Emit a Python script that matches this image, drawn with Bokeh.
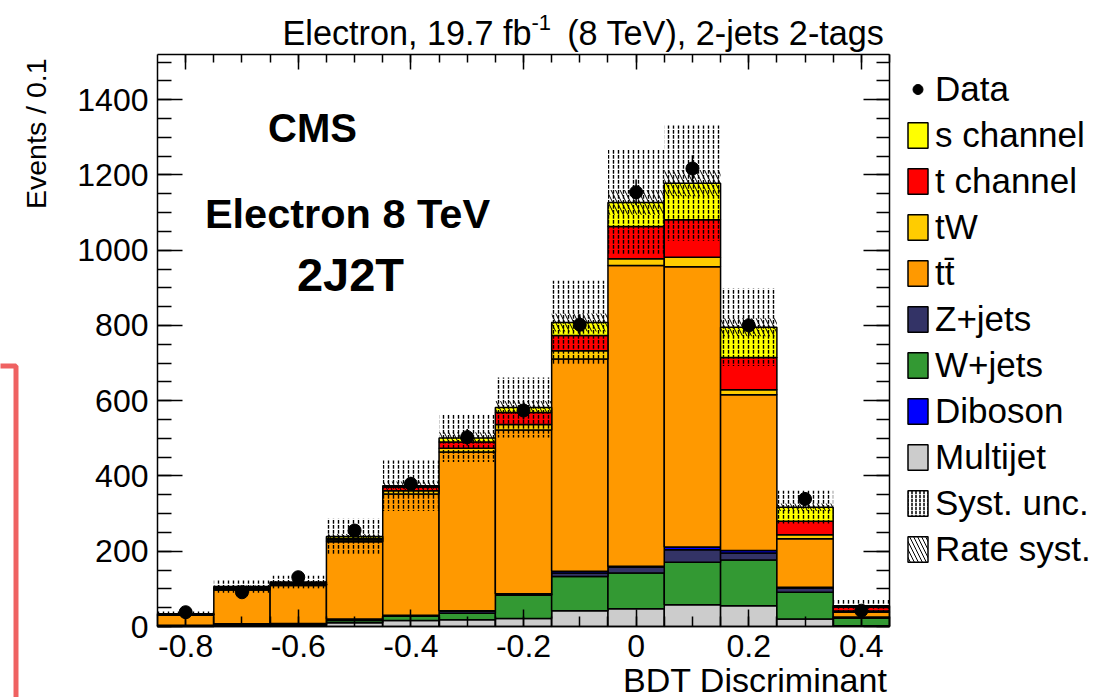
import numpy as np
from bokeh.plotting import figure
from bokeh.models import (ColumnDataSource, Label, Legend, LegendItem, LinearAxis,
                          SingleIntervalTicker, CustomJSTickFormatter, BoxAnnotation, Range1d)
from bokeh.embed import file_html
from bokeh.resources import INLINE

# ---- histogram content (events per 0.1 bin of the BDT discriminant) ----
bin_centers = [-0.8, -0.7, -0.6, -0.5, -0.4, -0.3, -0.2, -0.1, 0.0, 0.1, 0.2, 0.3, 0.4]
bin_width = 0.1

multijet  = [0, 1, 4, 10, 16, 18, 21, 42, 47, 58, 55, 20, 2]
wjets     = [2, 4, 3, 6, 11, 17, 62, 91, 95, 113, 122, 71, 20]
zjets     = [1, 2, 1, 4, 3, 6, 3, 9, 16, 33, 18, 11, 2]
diboson   = [0, 0, 0, 0, 0, 1, 1, 5, 2, 7, 7, 2, 1]
ttbar     = [27, 90, 101, 205, 322, 422, 435, 564, 799, 745, 414, 129, 13]
tw        = [2, 3, 3, 5, 9, 10, 15, 22, 18, 25, 13, 11, 3]
t_channel = [1, 2, 2, 4, 10, 16, 32, 40, 86, 100, 86, 36, 10]
s_channel = [1, 4, 4, 5, 3, 11, 13, 35, 64, 97, 80, 37, 4]

data      = [38, 91, 131, 255, 379, 503, 574, 802, 1154, 1217, 800, 339, 42]
data_err  = [6, 10, 11, 16, 19, 22, 24, 28, 34, 35, 28, 18, 6]

syst_unc  = [6, 16, 17, 47, 67, 64, 80, 111, 140, 153, 103, 44, 18]
rate_unc  = [1, 3, 3, 7, 11, 15, 17, 24, 33, 35, 24, 10, 2]

x_lo, x_hi = -0.85, 0.45      # histogram axis span
y_lo, y_hi = 0, 1520

FONT = "Liberation Sans"

# stack from the bottom up
stack = [
    ("Multijet",  multijet,  "#cccccc"),
    ("W+jets",    wjets,     "#339933"),
    ("Z+jets",    zjets,     "#333366"),
    ("Diboson",   diboson,   "#0000ff"),
    ("tt\u0304",  ttbar,     "#ff9900"),
    ("tW",        tw,        "#ffcc00"),
    ("t channel", t_channel, "#ff0000"),
    ("s channel", s_channel, "#ffff00"),
]

# ---- canvas geometry: the plot frame fills the whole page, the histogram box sits inside ----
W, H = 1094, 697
box_l, box_r, box_t, box_b = 157, 889, 54, 626
sx = (box_r - box_l) / (x_hi - x_lo)
sy = (box_b - box_t) / (y_hi - y_lo)
xr = Range1d(x_lo - box_l / sx, x_hi + (W - box_r) / sx)
yr = Range1d(y_lo - (H - box_b) / sy, y_hi + box_t / sy)


def px_x(px):
    return xr.start + px / sx


def px_y(py):
    return yr.end - py / sy


p = figure(width=W, height=H, x_range=xr, y_range=yr,
           output_backend="svg", toolbar_location=None,
           min_border=0, x_axis_type=None, y_axis_type=None)
p.xgrid.visible = False
p.ygrid.visible = False
p.outline_line_color = None
p.background_fill_color = "white"
p.border_fill_color = "white"

centers = np.array(bin_centers)
left = centers - bin_width / 2
right = centers + bin_width / 2

renderers = {}
base = np.zeros(len(bin_centers))
for name, vals, color in stack:
    top = base + np.array(vals, dtype=float)
    src = ColumnDataSource(dict(left=left, right=right, bottom=base.copy(), top=top))
    r = p.quad(left="left", right="right", bottom="bottom", top="top", source=src,
               fill_color=color, line_color="black", line_width=1.5)
    renderers[name] = r
    base = top
total = base

# rate systematic band
rate_src = ColumnDataSource(dict(left=left, right=right,
                                 bottom=total - np.array(rate_unc), top=total + np.array(rate_unc)))
p.quad(left="left", right="right", bottom="bottom", top="top", source=rate_src,
       fill_alpha=0, line_alpha=0, hatch_pattern="left_diagonal_line",
       hatch_color="black", hatch_scale=9, hatch_weight=1)

# total systematic band
syst_src = ColumnDataSource(dict(left=left, right=right,
                                 bottom=total - np.array(syst_unc), top=total + np.array(syst_unc)))
p.quad(left="left", right="right", bottom="bottom", top="top", source=syst_src,
       fill_alpha=0, line_alpha=0, hatch_pattern="vertical_dash",
       hatch_color="black", hatch_scale=5, hatch_weight=1.4)

# data with statistical error bars
d = np.array(data, dtype=float)
e = np.array(data_err, dtype=float)
data_src = ColumnDataSource(dict(x=centers, y=d, lo=d - e, hi=d + e))
p.segment(x0="x", x1="x", y0="lo", y1="hi", source=data_src, line_color="black", line_width=1.5)
data_r = p.scatter(x="x", y="y", source=data_src, size=13, color="black")

# outlined, hidden copies of the bands that provide the legend swatches
syst_leg = p.quad(left="left", right="right", bottom="bottom", top="top", source=syst_src,
                  fill_color="white", line_color="black", line_width=1.5,
                  hatch_pattern="vertical_dash", hatch_color="black",
                  hatch_scale=4, hatch_weight=1.5, visible=False)
rate_leg = p.quad(left="left", right="right", bottom="bottom", top="top", source=rate_src,
                  fill_color="white", line_color="black", line_width=1.5,
                  hatch_pattern="left_diagonal_line", hatch_color="black",
                  hatch_scale=8, hatch_weight=1, visible=False)

items = [LegendItem(label="Data", renderers=[data_r])]
for name in ["s channel", "t channel", "tW", "tt\u0304", "Z+jets", "W+jets", "Diboson", "Multijet"]:
    items.append(LegendItem(label=name, renderers=[renderers[name]]))
items.append(LegendItem(label="Syst. unc.", renderers=[syst_leg]))
items.append(LegendItem(label="Rate syst.", renderers=[rate_leg]))

legend = Legend(items=items, location=(905, 128), orientation="vertical",
                glyph_width=25, glyph_height=32, label_height=32, spacing=6,
                label_standoff=5, padding=0, margin=0, click_policy="none",
                inactive_fill_alpha=0,
                border_line_alpha=0, background_fill_alpha=0,
                label_text_font=FONT, label_text_font_size="35px",
                label_text_baseline="middle", label_text_color="black")
p.add_layout(legend)

# ---- axes on all four sides of the histogram box, ticks pointing inwards ----
blank_fmt = CustomJSTickFormatter(code="return '';")
x_fmt = CustomJSTickFormatter(code="""
    if (Math.abs(tick) < 1e-9) { return '0'; }
    return tick.toFixed(1);
""")


def style_axis(ax, major_in, minor_in, show_labels):
    ax.axis_line_color = "black"
    ax.axis_line_width = 1.5
    ax.major_tick_line_color = "black"
    ax.minor_tick_line_color = "black"
    ax.major_tick_line_width = 1.5
    ax.minor_tick_line_width = 1.5
    ax.major_tick_in = major_in
    ax.major_tick_out = 0
    ax.minor_tick_in = minor_in
    ax.minor_tick_out = 0
    ax.major_label_text_font = FONT
    ax.major_label_text_font_size = "32px"
    ax.major_label_text_color = "black"
    if not show_labels:
        ax.formatter = blank_fmt
        ax.major_label_standoff = 0


xb = LinearAxis(ticker=SingleIntervalTicker(interval=0.2, num_minor_ticks=4), formatter=x_fmt,
                fixed_location=y_lo, bounds=(x_lo, x_hi))
style_axis(xb, 17, 10, True)
xb.major_label_standoff = 8
p.add_layout(xb, "below")

xt = LinearAxis(ticker=SingleIntervalTicker(interval=0.2, num_minor_ticks=4),
                fixed_location=y_hi, bounds=(x_lo, x_hi))
style_axis(xt, 15, 8, False)
p.add_layout(xt, "above")

yl = LinearAxis(ticker=SingleIntervalTicker(interval=200, num_minor_ticks=4),
                fixed_location=x_lo, bounds=(y_lo, y_hi))
style_axis(yl, 25, 14, True)
yl.major_label_standoff = 9
p.add_layout(yl, "left")

yrt = LinearAxis(ticker=SingleIntervalTicker(interval=200, num_minor_ticks=4),
                 fixed_location=x_hi, bounds=(y_lo, y_hi))
style_axis(yrt, 26, 13, False)
p.add_layout(yrt, "right")


# ---- text ----
def add_label(text, px, py, size, bold=False, align="left", baseline="middle", angle=0.0):
    p.add_layout(Label(x=px_x(px), y=px_y(py), text=text, text_font=FONT, text_font_size=size,
                       text_font_style="bold" if bold else "normal",
                       text_align=align, text_baseline=baseline, angle=angle,
                       text_color="black"))


add_label("CMS", 312, 127, "40px", bold=True, align="center")
add_label("Electron 8 TeV", 347, 213, "41.5px", bold=True, align="center")
add_label("2J2T", 350, 274, "47px", bold=True, align="center")

# header line: "Electron, 19.7 fb^-1 (8 TeV), 2-jets 2-tags"
add_label("Electron, 19.7 fb", 282, 32, "34.2px", align="left")
add_label("-1", 531, 22, "22px", align="left")
add_label("(8 TeV), 2-jets 2-tags", 884, 32, "34.2px", align="right")

# axis titles
add_label("BDT Discriminant", 887, 679, "34px", align="right")
add_label("Events / 0.1", 35, 58, "28.5px", align="right", angle=np.pi / 2)

# red marker frame at the left edge
p.add_layout(BoxAnnotation(left=px_x(-40), right=px_x(15.5), bottom=px_y(760), top=px_y(365.5),
                           fill_alpha=0, line_color="#ef6262", line_alpha=1.0, line_width=5))

open("out.html", "w").write(file_html(p, INLINE))
